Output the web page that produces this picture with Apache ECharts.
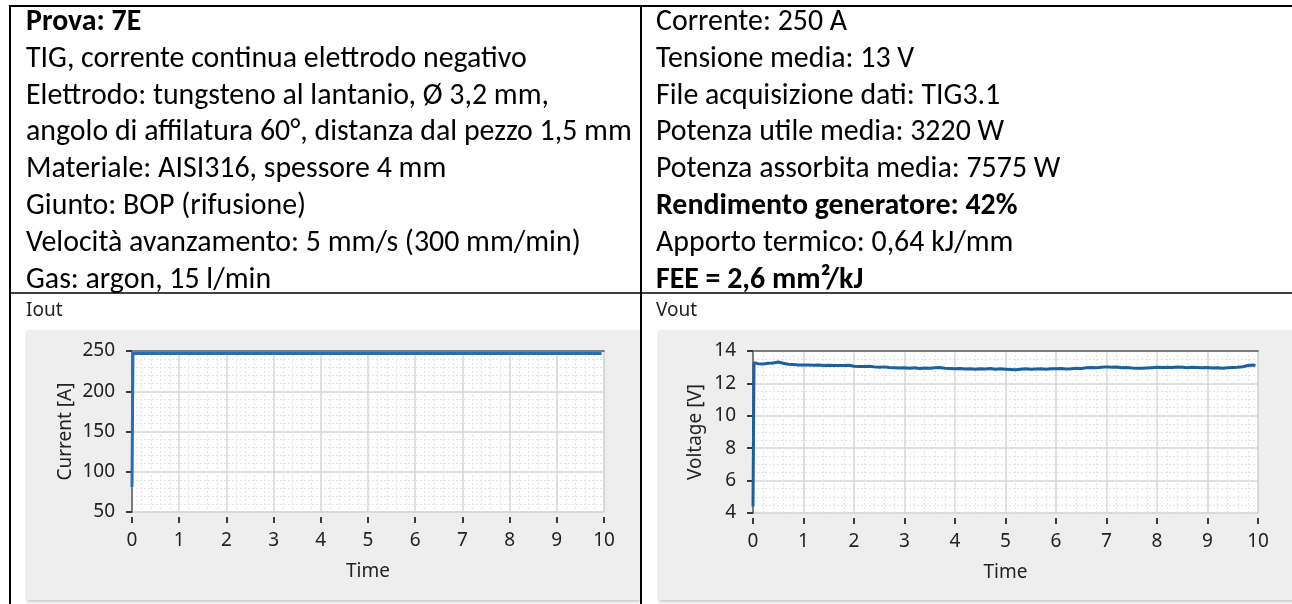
<!DOCTYPE html>
<html>
<head>
<meta charset="utf-8">
<script src="https://cdn.jsdelivr.net/npm/echarts@6/dist/echarts.min.js"></script>
<style>
  html, body { margin: 0; padding: 0; background: #ffffff; }
  #main { width: 1292px; height: 604px; }
</style>
</head>
<body>
<div id="main"></div>
<script>
// Header cells of the test sheet: [text, bold]
const infoLeft = [
  ['Prova: 7E', true],
  ['TIG, corrente continua elettrodo negativo', false],
  ['Elettrodo: tungsteno al lantanio, Ø 3,2 mm,', false],
  ['angolo di affilatura 60°, distanza dal pezzo 1,5 mm', false],
  ['Materiale: AISI316, spessore 4 mm', false],
  ['Giunto: BOP (rifusione)', false],
  ['Velocità avanzamento: 5 mm/s (300 mm/min)', false],
  ['Gas: argon, 15 l/min', false]
];
const infoRight = [
  ['Corrente: 250 A', false],
  ['Tensione media: 13 V', false],
  ['File acquisizione dati: TIG3.1', false],
  ['Potenza utile media: 3220 W', false],
  ['Potenza assorbita media: 7575 W', false],
  ['Rendimento generatore: 42%', true],
  ['Apporto termico: 0,64 kJ/mm', false],
  ['FEE = 2,6 mm²/kJ', true]
];

// Graph captions and axis titles
const currentCaption = 'Iout';
const voltageCaption = 'Vout';
const currentAxisName = 'Current [A]';
const voltageAxisName = 'Voltage [V]';
const timeAxisName = 'Time';

// Axis ranges
const timeRange = [0, 10, 1];
const currentRange = [50, 250, 50];
const voltageRange = [4, 14, 2];

// Iout trace: arc strike then steady current
const currentTime = [0, 0.02, 9.95];
const currentValues = [81, 247, 247];

// Vout trace
const voltageTime = [
  0, 0.02, 0.1, 0.2, 0.3, 0.4, 0.5, 0.6, 0.7, 0.8, 0.9,
  1.0, 1.1, 1.2, 1.3, 1.4, 1.5, 1.6, 1.7, 1.8, 1.9,
  2.0, 2.1, 2.2, 2.3, 2.4, 2.5, 2.6, 2.7, 2.8, 2.9,
  3.0, 3.1, 3.2, 3.3, 3.4, 3.5, 3.6, 3.7, 3.8, 3.9,
  4.0, 4.1, 4.2, 4.3, 4.4, 4.5, 4.6, 4.7, 4.8, 4.9,
  5.0, 5.1, 5.2, 5.3, 5.4, 5.5, 5.6, 5.7, 5.8, 5.9,
  6.0, 6.1, 6.2, 6.3, 6.4, 6.5, 6.6, 6.7, 6.8, 6.9,
  7.0, 7.1, 7.2, 7.3, 7.4, 7.5, 7.6, 7.7, 7.8, 7.9,
  8.0, 8.1, 8.2, 8.3, 8.4, 8.5, 8.6, 8.7, 8.8, 8.9,
  9.0, 9.1, 9.2, 9.3, 9.4, 9.5, 9.6, 9.7, 9.8, 9.9, 9.95
];
const voltageValues = [
  4.4, 13.28, 13.22, 13.20, 13.24, 13.26, 13.32, 13.24, 13.18, 13.16, 13.14,
  13.13, 13.14, 13.12, 13.13, 13.10, 13.12, 13.10, 13.11, 13.10, 13.12,
  13.06, 13.05, 13.04, 13.06, 13.02, 13.00, 13.02, 12.98, 12.97, 12.95,
  12.96, 12.94, 12.97, 12.92, 12.95, 12.93, 12.96, 12.98, 12.94, 12.92,
  12.90, 12.92, 12.89, 12.90, 12.88, 12.91, 12.89, 12.92, 12.88, 12.90,
  12.88, 12.86, 12.84, 12.88, 12.90, 12.87, 12.89, 12.91, 12.88, 12.90,
  12.90, 12.92, 12.89, 12.90, 12.93, 12.92, 12.96, 12.98, 12.97, 13.00,
  13.02, 12.99, 13.01, 12.97, 12.98, 12.95, 12.94, 12.93, 12.95, 12.97,
  12.99, 12.98, 13.00, 12.98, 13.01, 12.99, 12.97, 13.00, 12.98, 12.96,
  12.98, 12.95, 12.97, 12.94, 12.96, 12.98, 13.00, 13.03, 13.10, 13.14, 13.10
];

const pairs = (xs, ys) => xs.map((x, i) => [x, ys[i]]);

// Sheet text: size the font so the longest left-cell line fills its cell
const sheetFont = "Carlito, Lato, 'Noto Sans', sans-serif";
function fitSize(text, target) {
  const ctx = document.createElement('canvas').getContext('2d');
  ctx.font = 'normal 100px ' + sheetFont;
  return 100 * target / ctx.measureText(text).width;
}
const sheetSize = fitSize(infoLeft[3][0], 606);
const sheetLine = 36.85;

function richBlock(lines) {
  return lines.map(([t, b]) => '{' + (b ? 'b' : 'n') + '|' + t + '}').join('\n');
}
const sheetRich = {
  n: { fontFamily: sheetFont, fontSize: sheetSize, lineHeight: sheetLine, color: '#000', fontWeight: 'normal' },
  b: { fontFamily: sheetFont, fontSize: sheetSize, lineHeight: sheetLine, color: '#000', fontWeight: 'bold' }
};

const uiFont = "'Noto Sans', 'Open Sans', sans-serif";
const uiText = '#222222';

function mainX(gridIndex) {
  return {
    type: 'value', gridIndex, position: 'bottom',
    min: timeRange[0], max: timeRange[1], interval: timeRange[2],
    offset: 5,
    name: timeAxisName, nameLocation: 'middle', nameGap: 45,
    nameTextStyle: { fontFamily: uiFont, fontSize: 19, color: uiText },
    axisLine: { show: false },
    axisTick: { show: true, length: 6, lineStyle: { color: '#3a3a3a', width: 2 } },
    axisLabel: { fontFamily: uiFont, fontSize: 19, color: uiText, margin: 14 },
    splitLine: { show: true, lineStyle: { color: '#d6d6d6', width: 1.5 } },
    minorTick: { show: false, splitNumber: 5 },
    minorSplitLine: { show: true, lineStyle: { color: '#e4e4e4', width: 1, type: [2, 2] } }
  };
}
function frameX(gridIndex) {
  return {
    type: 'value', gridIndex, position: 'top',
    min: timeRange[0], max: timeRange[1],
    axisLine: { show: true, lineStyle: { color: '#7c7c7c', width: 2 } },
    axisTick: { show: false }, axisLabel: { show: false }, splitLine: { show: false }
  };
}
function mainY(gridIndex, range, name, gap, minorSplit) {
  return {
    type: 'value', gridIndex, position: 'left',
    min: range[0], max: range[1], interval: range[2],
    offset: 4,
    name, nameLocation: 'middle', nameGap: gap,
    nameTextStyle: { fontFamily: uiFont, fontSize: 19, color: uiText },
    axisLine: { show: false },
    axisTick: { show: true, length: 6, lineStyle: { color: '#3a3a3a', width: 2 } },
    axisLabel: { fontFamily: uiFont, fontSize: 19, color: uiText, margin: 13 },
    splitLine: { show: true, lineStyle: { color: '#d6d6d6', width: 1.5 } },
    minorTick: { show: false, splitNumber: minorSplit },
    minorSplitLine: { show: true, lineStyle: { color: '#e4e4e4', width: 1, type: [2, 2] } }
  };
}
function frameY(gridIndex, range) {
  return {
    type: 'value', gridIndex, position: 'left',
    min: range[0], max: range[1],
    axisLine: { show: true, lineStyle: { color: '#7c7c7c', width: 2 } },
    axisTick: { show: false }, axisLabel: { show: false }, splitLine: { show: false }
  };
}

const panelStyle = {
  fill: '#eeeeee',
  shadowBlur: 3, shadowOffsetY: 2, shadowColor: 'rgba(0,0,0,0.22)'
};
const ruleStyle = { stroke: '#000000', lineWidth: 2 };

const option = {
  animation: false,
  backgroundColor: '#ffffff',
  title: [
    { left: 26, top: 4, padding: 0, text: richBlock(infoLeft), textStyle: { fontWeight: 'normal', rich: sheetRich } },
    { left: 656, top: 4, padding: 0, text: richBlock(infoRight), textStyle: { fontWeight: 'normal', rich: sheetRich } },
    { left: 26, top: 301, padding: 0, text: currentCaption,
      textStyle: { fontFamily: uiFont, fontSize: 19, fontWeight: 'normal', color: uiText } },
    { left: 656, top: 301, padding: 0, text: voltageCaption,
      textStyle: { fontFamily: uiFont, fontSize: 19, fontWeight: 'normal', color: uiText } }
  ],
  graphic: [
    // graph panels
    { type: 'rect', z: -10, shape: { x: 27, y: 330, width: 613, height: 270 }, style: panelStyle },
    { type: 'rect', z: -10, shape: { x: 659, y: 330, width: 640, height: 270 }, style: panelStyle },
    // table rules
    { type: 'line', z: 50, shape: { x1: 9, y1: 6, x2: 1292, y2: 6 }, style: ruleStyle },
    { type: 'line', z: 50, shape: { x1: 10, y1: 5, x2: 10, y2: 604 }, style: ruleStyle },
    { type: 'line', z: 50, shape: { x1: 641, y1: 5, x2: 641, y2: 604 }, style: ruleStyle },
    { type: 'line', z: 50, shape: { x1: 9, y1: 293, x2: 1292, y2: 293 }, style: { stroke: '#000', lineWidth: 1.5 } }
  ],
  grid: [
    { left: 132, top: 351, width: 472, height: 161, show: true, backgroundColor: '#ffffff',
      borderColor: '#cfcfcf', borderWidth: 1 },
    { left: 753, top: 351, width: 505, height: 162, show: true, backgroundColor: '#ffffff',
      borderColor: '#cfcfcf', borderWidth: 1 }
  ],
  xAxis: [mainX(0), frameX(0), mainX(1), frameX(1)],
  yAxis: [
    mainY(0, currentRange, currentAxisName, 53, 5),
    frameY(0, currentRange),
    mainY(1, voltageRange, voltageAxisName, 44, 4),
    frameY(1, voltageRange)
  ],
  series: [
    {
      type: 'line', name: currentCaption, xAxisIndex: 0, yAxisIndex: 0,
      data: pairs(currentTime, currentValues),
      showSymbol: false, z: 5,
      lineStyle: { color: '#2a6db0', width: 3 }
    },
    {
      type: 'line', name: voltageCaption, xAxisIndex: 2, yAxisIndex: 2,
      data: pairs(voltageTime, voltageValues),
      showSymbol: false, z: 5,
      lineStyle: { color: '#1b5f9f', width: 3 }
    }
  ]
};

const chart = echarts.init(document.getElementById('main'), null, { renderer: 'canvas' });
chart.setOption(option);
</script>
</body>
</html>
